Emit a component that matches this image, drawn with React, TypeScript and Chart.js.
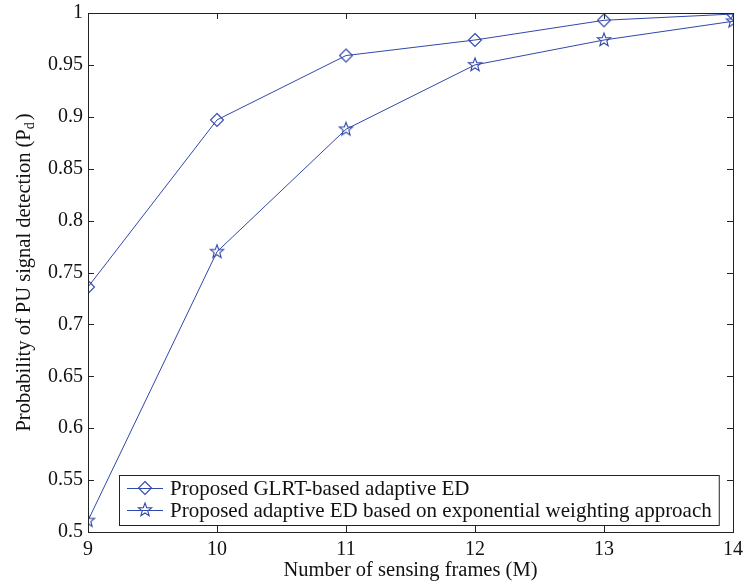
import React, { useEffect, useRef } from "react";
import { Chart, registerables } from "chart.js";
Chart.register(...registerables);

const frames = [9, 10, 11, 12, 13, 14];
const glrtValues = [0.736, 0.897, 0.959, 0.974, 0.993, 0.999];
const expValues = [0.511, 0.770, 0.888, 0.950, 0.974, 0.992];
const seriesNames = [
  "Proposed GLRT-based adaptive ED",
  "Proposed adaptive ED based on exponential weighting approach",
];
const yTickValues = [0.5, 0.55, 0.6, 0.65, 0.7, 0.75, 0.8, 0.85, 0.9, 0.95, 1];
const xTitle = "Number of sensing frames (M)";
const yTitleMain = "Probability of PU signal detection (P";
const yTitleSub = "d";
const yTitleEnd = ")";

const BLUE = "rgb(48,72,170)";
const FONT = "Liberation Serif, Times New Roman, serif";

function pathDiamond(ctx: CanvasRenderingContext2D, x: number, y: number, r: number) {
  ctx.beginPath();
  ctx.moveTo(x, y - r);
  ctx.lineTo(x + r, y);
  ctx.lineTo(x, y + r);
  ctx.lineTo(x - r, y);
  ctx.closePath();
}

function pathStar(ctx: CanvasRenderingContext2D, x: number, y: number, R: number) {
  const r = R * 0.42;
  ctx.beginPath();
  for (let i = 0; i < 10; i++) {
    const rad = i % 2 === 0 ? R : r;
    const a = -Math.PI / 2 + (i * Math.PI) / 5;
    const px = x + rad * Math.cos(a);
    const py = y + rad * Math.sin(a);
    if (i === 0) ctx.moveTo(px, py);
    else ctx.lineTo(px, py);
  }
  ctx.closePath();
}

function makeMarker(kind: "diamond" | "star"): HTMLCanvasElement {
  const c = document.createElement("canvas");
  c.width = 18;
  c.height = 18;
  const ctx = c.getContext("2d")!;
  ctx.strokeStyle = BLUE;
  ctx.lineWidth = 1.1;
  if (kind === "diamond") pathDiamond(ctx, 9, 9, 6.5);
  else pathStar(ctx, 9, 9, 7);
  ctx.stroke();
  return c;
}

export default function App() {
  const ref = useRef<HTMLCanvasElement | null>(null);

  useEffect(() => {
    document.body.style.margin = "0";
    const canvas = ref.current!;
    const diamond = makeMarker("diamond");
    const star = makeMarker("star");

    const decor = {
      id: "matlabDecor",
      afterDraw(chart: any) {
        const ctx: CanvasRenderingContext2D = chart.ctx;
        const { left, right, top, bottom } = chart.chartArea;
        const xs = chart.scales.x;
        const ys = chart.scales.y;
        ctx.save();
        ctx.strokeStyle = "#222";
        ctx.lineWidth = 1;
        ctx.strokeRect(Math.round(left) + 0.5, Math.round(top) + 0.5, Math.round(right - left), Math.round(bottom - top));
        const tl = 6;
        ctx.beginPath();
        frames.forEach((v) => {
          const px = Math.round(xs.getPixelForValue(v)) + 0.5;
          ctx.moveTo(px, bottom);
          ctx.lineTo(px, bottom - tl);
          ctx.moveTo(px, top);
          ctx.lineTo(px, top + tl);
        });
        yTickValues.forEach((v) => {
          const py = Math.round(ys.getPixelForValue(v)) + 0.5;
          ctx.moveTo(left, py);
          ctx.lineTo(left + tl, py);
          ctx.moveTo(right, py);
          ctx.lineTo(right - tl, py);
        });
        ctx.stroke();

        // x title
        ctx.fillStyle = "#111";
        ctx.font = `20.5px ${FONT}`;
        ctx.textAlign = "center";
        ctx.textBaseline = "middle";
        ctx.fillText(xTitle, (left + right) / 2, 571);

        // y title with subscript
        ctx.save();
        ctx.translate(22, (top + bottom) / 2);
        ctx.rotate(-Math.PI / 2);
        ctx.font = `20.5px ${FONT}`;
        const w1 = ctx.measureText(yTitleMain).width;
        ctx.font = `14px ${FONT}`;
        const w2 = ctx.measureText(yTitleSub).width;
        ctx.font = `20.5px ${FONT}`;
        const w3 = ctx.measureText(yTitleEnd).width;
        const total = w1 + w2 + 2 + w3;
        let cx = -total / 2;
        ctx.textAlign = "left";
        ctx.textBaseline = "alphabetic";
        ctx.fillText(yTitleMain, cx, 8);
        cx += w1;
        ctx.font = `14px ${FONT}`;
        ctx.fillText(yTitleSub, cx, 12);
        cx += w2 + 2;
        ctx.font = `20.5px ${FONT}`;
        ctx.fillText(yTitleEnd, cx, 8);
        ctx.restore();

        // legend
        ctx.font = `21px ${FONT}`;
        const textW = Math.max(...seriesNames.map((s) => ctx.measureText(s).width));
        const lx = Math.round(left) + 31;
        const ly = 475;
        const lw = 51 + textW + 7;
        const lh = 50;
        ctx.fillStyle = "#fff";
        ctx.fillRect(lx, ly, lw, lh);
        ctx.strokeStyle = "#222";
        ctx.strokeRect(lx + 0.5, ly + 0.5, lw, lh);
        const rows = [ly + 13, ly + 35];
        seriesNames.forEach((name, i) => {
          const ry = rows[i];
          ctx.strokeStyle = BLUE;
          ctx.lineWidth = 1;
          ctx.beginPath();
          ctx.moveTo(lx + 8, ry + 0.5);
          ctx.lineTo(lx + 44, ry + 0.5);
          ctx.stroke();
          ctx.drawImage(i === 0 ? diamond : star, lx + 26 - 9, ry - 9);
          ctx.fillStyle = "#111";
          ctx.textAlign = "left";
          ctx.textBaseline = "middle";
          ctx.fillText(name, lx + 51, ry + 1);
        });
        ctx.restore();
      },
    };

    const chart = new Chart(canvas, {
      type: "line",
      data: {
        datasets: [
          {
            label: seriesNames[0],
            data: frames.map((f, i) => ({ x: f, y: glrtValues[i] })),
            borderColor: BLUE,
            borderWidth: 1,
            pointStyle: diamond as any,
            pointRadius: 7,
            tension: 0,
            fill: false,
          },
          {
            label: seriesNames[1],
            data: frames.map((f, i) => ({ x: f, y: expValues[i] })),
            borderColor: BLUE,
            borderWidth: 1,
            pointStyle: star as any,
            pointRadius: 7,
            tension: 0,
            fill: false,
          },
        ],
      },
      options: {
        animation: false,
        responsive: false,
        maintainAspectRatio: false,
        layout: { padding: { left: 0, right: 10, top: 13, bottom: 0 } },
        plugins: { legend: { display: false }, tooltip: { enabled: false } },
        scales: {
          x: {
            type: "linear",
            min: 9,
            max: 14,
            grid: { display: false, drawTicks: false },
            border: { display: false },
            afterBuildTicks: (s: any) => {
              s.ticks = frames.map((v) => ({ value: v }));
            },
            afterFit: (s: any) => {
              s.height = 54;
              s.paddingLeft = 0;
              s.paddingRight = 0;
            },
            ticks: {
              padding: 6,
              color: "#111",
              font: { family: FONT, size: 20 },
              maxRotation: 0,
              callback: (v: any) => String(v),
            },
          },
          y: {
            type: "linear",
            min: 0.5,
            max: 1,
            grid: { display: false, drawTicks: false },
            border: { display: false },
            afterBuildTicks: (s: any) => {
              s.ticks = yTickValues.map((v) => ({ value: v }));
            },
            afterFit: (s: any) => {
              s.width = 88;
              s.paddingTop = 0;
              s.paddingBottom = 0;
            },
            ticks: {
              padding: 5,
              color: "#111",
              font: { family: FONT, size: 20 },
              callback: (v: any) => String(Number(Number(v).toFixed(2))),
            },
          },
        },
      },
      plugins: [decor],
    });
    return () => chart.destroy();
  }, []);

  return <canvas ref={ref} width={743} height={586} style={{ display: "block" }} />;
}
